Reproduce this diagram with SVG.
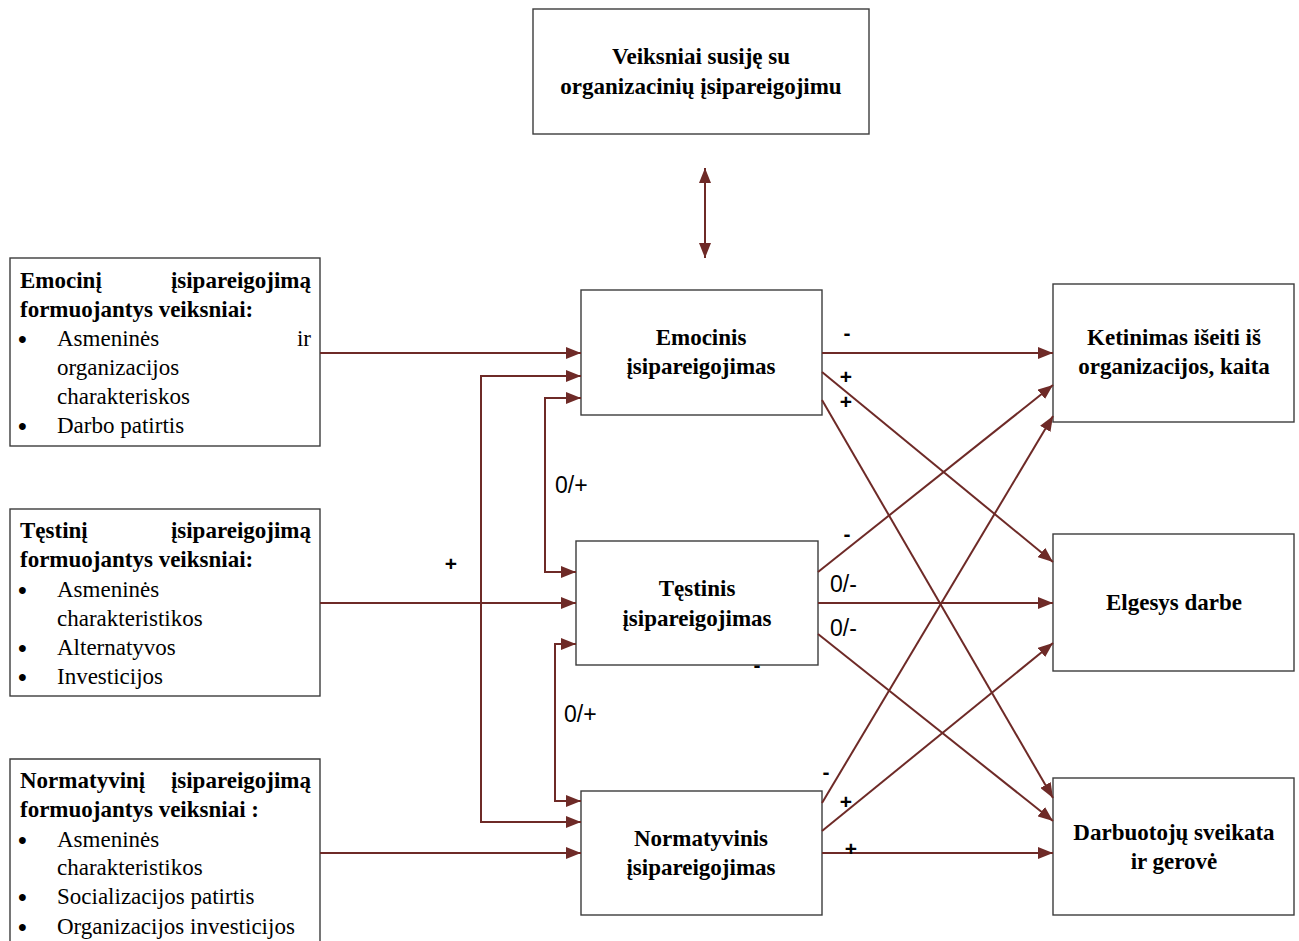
<svg xmlns="http://www.w3.org/2000/svg" width="1299" height="941" viewBox="0 0 1299 941">
  <style>
    .box { fill: #ffffff; stroke: #3c3c3c; stroke-width: 1.4; }
    .ttl { font-family: "Liberation Serif", "Times New Roman", serif; font-weight: bold; font-size: 23px; fill: #000; }
    .txt { font-family: "Liberation Serif", "Times New Roman", serif; font-size: 23px; fill: #000; }
    .bul { font-family: "Liberation Serif", "Times New Roman", serif; font-size: 25px; font-weight: bold; fill: #000; }
    .mid { text-anchor: middle; }
    .end { text-anchor: end; }
    .lbl { font-family: "Liberation Sans", Arial, sans-serif; font-size: 23px; fill: #000; }
    .sgn { font-family: "Liberation Sans", Arial, sans-serif; font-size: 21px; font-weight: bold; fill: #000; }
    .link { fill: none; stroke: #6e2a27; stroke-width: 2; }
  </style>
  <defs>
    <marker id="head" markerUnits="userSpaceOnUse" markerWidth="16" markerHeight="12" refX="15" refY="6" orient="auto-start-reverse">
      <path d="M0,0 L15,6 L0,12 Z" fill="#6e2a27"/>
    </marker>
  </defs>

  <!-- top factor box -->
  <g id="node-veiksniai">
    <rect class="box" x="533" y="9" width="336" height="125"/>
    <text class="ttl mid" x="701" y="64">Veiksniai susiję su</text>
    <text class="ttl mid" x="701" y="94">organizacinių įsipareigojimu</text>
  </g>

  <!-- antecedent boxes -->
  <g id="node-emocini-veiksniai">
    <rect class="box" x="10" y="258" width="310" height="188"/>
    <text class="ttl" x="20" y="288">Emocinį</text>
    <text class="ttl end" x="311" y="288">įsipareigojimą</text>
    <text class="ttl" x="20" y="317">formuojantys veiksniai:</text>
    <text class="bul" x="18" y="348">•</text>
    <text class="txt" x="57" y="346">Asmeninės</text>
    <text class="txt end" x="311" y="346">ir</text>
    <text class="txt" x="57" y="375">organizacijos</text>
    <text class="txt" x="57" y="404">charakteriskos</text>
    <text class="bul" x="18" y="435">•</text>
    <text class="txt" x="57" y="433">Darbo patirtis</text>
  </g>

  <g id="node-testini-veiksniai">
    <rect class="box" x="10" y="509" width="310" height="187"/>
    <text class="ttl" x="20" y="538">Tęstinį</text>
    <text class="ttl end" x="311" y="538">įsipareigojimą</text>
    <text class="ttl" x="20" y="567">formuojantys veiksniai:</text>
    <text class="bul" x="18" y="599">•</text>
    <text class="txt" x="57" y="597">Asmeninės</text>
    <text class="txt" x="57" y="626">charakteristikos</text>
    <text class="bul" x="18" y="657">•</text>
    <text class="txt" x="57" y="655">Alternatyvos</text>
    <text class="bul" x="18" y="686">•</text>
    <text class="txt" x="57" y="684">Investicijos</text>
  </g>

  <g id="node-normatyvini-veiksniai">
    <path class="box" d="M10,945 V759 H320 V945"/>
    <text class="ttl" x="20" y="788">Normatyvinį</text>
    <text class="ttl end" x="311" y="788">įsipareigojimą</text>
    <text class="ttl" x="20" y="817">formuojantys veiksniai :</text>
    <text class="bul" x="18" y="849">•</text>
    <text class="txt" x="57" y="847">Asmeninės</text>
    <text class="txt" x="57" y="875">charakteristikos</text>
    <text class="bul" x="18" y="906">•</text>
    <text class="txt" x="57" y="904">Socializacijos patirtis</text>
    <text class="bul" x="18" y="936">•</text>
    <text class="txt" x="57" y="934">Organizacijos investicijos</text>
  </g>

  <!-- commitment components -->
  <g id="node-emocinis">
    <rect class="box" x="581" y="290" width="241" height="125"/>
    <text class="ttl mid" x="701" y="345">Emocinis</text>
    <text class="ttl mid" x="701" y="374">įsipareigojimas</text>
  </g>

  <g id="node-testinis">
    <rect class="box" x="576" y="541" width="242" height="124"/>
    <text class="ttl mid" x="697" y="596">Tęstinis</text>
    <text class="ttl mid" x="697" y="626">įsipareigojimas</text>
  </g>

  <g id="node-normatyvinis">
    <rect class="box" x="581" y="791" width="241" height="124"/>
    <text class="ttl mid" x="701" y="846">Normatyvinis</text>
    <text class="ttl mid" x="701" y="875">įsipareigojimas</text>
  </g>

  <!-- outcomes -->
  <g id="node-ketinimas">
    <rect class="box" x="1053" y="284" width="241" height="138"/>
    <text class="ttl mid" x="1174" y="345">Ketinimas išeiti iš</text>
    <text class="ttl mid" x="1174" y="374">organizacijos, kaita</text>
  </g>

  <g id="node-elgesys">
    <rect class="box" x="1053" y="534" width="241" height="137"/>
    <text class="ttl mid" x="1174" y="610">Elgesys darbe</text>
  </g>

  <g id="node-sveikata">
    <rect class="box" x="1053" y="778" width="241" height="137"/>
    <text class="ttl mid" x="1174" y="840">Darbuotojų sveikata</text>
    <text class="ttl mid" x="1174" y="869">ir gerovė</text>
  </g>

  <!-- connectors -->
  <g id="connectors">
    <line class="link" x1="705" y1="168" x2="705" y2="258" marker-start="url(#head)" marker-end="url(#head)"/>

    <line class="link" x1="320" y1="353" x2="581" y2="353" marker-end="url(#head)"/>
    <line class="link" x1="320" y1="603" x2="576" y2="603" marker-end="url(#head)"/>
    <line class="link" x1="320" y1="853" x2="581" y2="853" marker-end="url(#head)"/>

    <polyline class="link" points="581,376 481,376 481,822 581,822" marker-start="url(#head)" marker-end="url(#head)"/>
    <polyline class="link" points="581,398 545,398 545,572 576,572" marker-start="url(#head)" marker-end="url(#head)"/>
    <polyline class="link" points="576,644 555,644 555,801 581,801" marker-start="url(#head)" marker-end="url(#head)"/>

    <line class="link" x1="822" y1="353" x2="1053" y2="353" marker-end="url(#head)"/>
    <line class="link" x1="822" y1="372" x2="1053" y2="562" marker-end="url(#head)"/>
    <line class="link" x1="822" y1="400" x2="1053" y2="798" marker-end="url(#head)"/>

    <line class="link" x1="818" y1="572" x2="1053" y2="385" marker-end="url(#head)"/>
    <line class="link" x1="818" y1="603" x2="1053" y2="603" marker-end="url(#head)"/>
    <line class="link" x1="818" y1="634" x2="1053" y2="821" marker-end="url(#head)"/>

    <line class="link" x1="822" y1="803" x2="1053" y2="416" marker-end="url(#head)"/>
    <line class="link" x1="822" y1="831" x2="1053" y2="643" marker-end="url(#head)"/>
    <line class="link" x1="822" y1="853" x2="1053" y2="853" marker-end="url(#head)"/>
  </g>

  <!-- relation signs -->
  <g id="labels">
    <text class="sgn" x="451" y="571" text-anchor="middle">+</text>
    <text class="lbl" x="555" y="493">0/+</text>
    <text class="lbl" x="564" y="722">0/+</text>
    <text class="sgn" x="847" y="340" text-anchor="middle">-</text>
    <text class="sgn" x="846" y="384" text-anchor="middle">+</text>
    <text class="sgn" x="846" y="409" text-anchor="middle">+</text>
    <text class="sgn" x="847" y="541" text-anchor="middle">-</text>
    <text class="lbl" x="830" y="592">0/-</text>
    <text class="lbl" x="830" y="636">0/-</text>
    <text class="sgn" x="757" y="672" text-anchor="middle">-</text>
    <text class="sgn" x="826" y="779" text-anchor="middle">-</text>
    <text class="sgn" x="846" y="809" text-anchor="middle">+</text>
    <text class="sgn" x="851" y="856" text-anchor="middle">+</text>
  </g>
</svg>
